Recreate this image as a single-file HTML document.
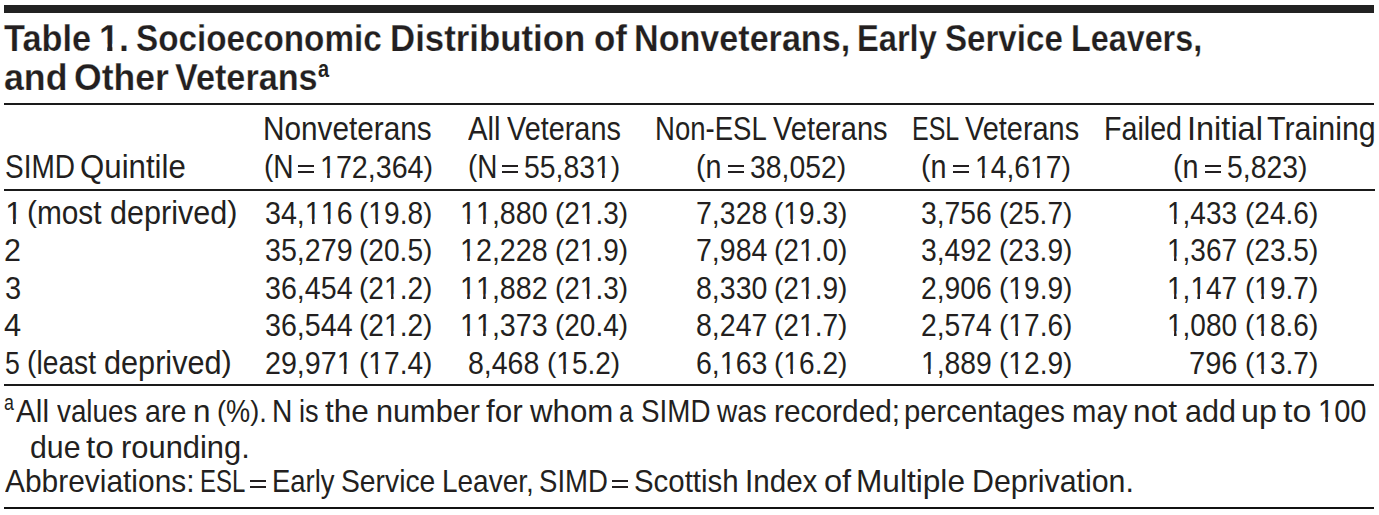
<!DOCTYPE html>
<html><head><meta charset="utf-8"><title>Table 1</title>
<style>
html,body{margin:0;padding:0;background:#fff;width:1379px;height:515px;overflow:hidden;position:relative}
.t{position:absolute;white-space:pre;line-height:1;font-family:"Liberation Sans", sans-serif;color:#231f20;transform-origin:0 0}
.r{position:absolute;background:#231f20}
.bo{-webkit-text-stroke:0.25px #fff}
.p{display:inline-block;transform:scaleY(0.92);transform-origin:0 0}
.o{display:inline-block;clip-path:polygon(0 0,100% 0,100% 0.68em,61.5% 0.68em,61.5% 100%,44.8% 100%,44.8% 0.68em,0 0.68em)}
b .o, .bo .o{clip-path:polygon(0 0,100% 0,100% 0.62em,67% 0.62em,67% 100%,41.5% 100%,41.5% 0.62em,0 0.62em)}
</style></head><body>
<div class=r style="left:4px;top:5px;width:1370px;height:8px;background:#222"></div>
<div class=r style="left:4px;top:103px;width:1370px;height:2px;background:#1a1a1a"></div>
<div class=r style="left:4px;top:189px;width:1371px;height:2px;background:#1a1a1a"></div>
<div class=r style="left:4px;top:384px;width:1370px;height:2px;background:#1a1a1a"></div>
<div class=r style="left:4px;top:507px;width:1370px;height:2px;background:#111"></div>
<div class=r style="left:297.9px;top:165px;width:16.3px;height:2px"></div>
<div class=r style="left:297.9px;top:171px;width:16.3px;height:2px"></div>
<div class=r style="left:502.0px;top:165px;width:16.3px;height:2px"></div>
<div class=r style="left:502.0px;top:171px;width:16.3px;height:2px"></div>
<div class=r style="left:727.7px;top:165px;width:16.3px;height:2px"></div>
<div class=r style="left:727.7px;top:171px;width:16.3px;height:2px"></div>
<div class=r style="left:952.7px;top:165px;width:16.3px;height:2px"></div>
<div class=r style="left:952.7px;top:171px;width:16.3px;height:2px"></div>
<div class=r style="left:1204.8px;top:165px;width:16.3px;height:2px"></div>
<div class=r style="left:1204.8px;top:171px;width:16.3px;height:2px"></div>
<div class=r style="left:249.7px;top:480px;width:16.8px;height:2px"></div>
<div class=r style="left:249.7px;top:486px;width:16.8px;height:2px"></div>
<div class=r style="left:612.0px;top:480px;width:16.3px;height:2px"></div>
<div class=r style="left:612.0px;top:486px;width:16.3px;height:2px"></div>
<div class="t bo" style="left:3.88px;top:21.00px;font-size:36.5px;font-weight:700;transform:scaleX(0.9394)">Table</div>
<div class="t bo" style="left:99.49px;top:21.00px;font-size:36.5px;font-weight:700;transform:scaleX(0.9840);font-kerning:none"><span class=o>1</span>.</div>
<div class="t bo" style="left:136.36px;top:21.00px;font-size:36.5px;font-weight:700;transform:scaleX(0.9108)">Socioeconomic</div>
<div class="t bo" style="left:390.12px;top:21.00px;font-size:36.5px;font-weight:700;transform:scaleX(0.9535)">Distribution</div>
<div class="t bo" style="left:593.76px;top:21.00px;font-size:36.5px;font-weight:700;transform:scaleX(0.9576)">of</div>
<div class="t bo" style="left:633.76px;top:21.00px;font-size:36.5px;font-weight:700;transform:scaleX(0.9348)">Nonveterans,</div>
<div class="t bo" style="left:856.87px;top:21.00px;font-size:36.5px;font-weight:700;transform:scaleX(0.8939)">Early</div>
<div class="t bo" style="left:945.47px;top:21.00px;font-size:36.5px;font-weight:700;transform:scaleX(0.9069)">Service</div>
<div class="t bo" style="left:1070.99px;top:21.00px;font-size:36.5px;font-weight:700;transform:scaleX(0.8853)">Leavers,</div>
<div class="t bo" style="left:3.68px;top:60.00px;font-size:36.5px;font-weight:700;transform:scaleX(0.9787)">and</div>
<div class="t bo" style="left:73.50px;top:60.00px;font-size:36.5px;font-weight:700;transform:scaleX(0.9737)">Other</div>
<div class="t bo" style="left:175.03px;top:60.00px;font-size:36.5px;font-weight:700;transform:scaleX(0.9373)">Veterans</div>
<div class="t" style="left:317.55px;top:57.60px;font-size:23px;font-weight:700;transform:scaleX(0.8653)">a</div>
<div class="t" style="left:4.51px;top:150.90px;font-size:32.5px;font-weight:400;transform:scaleX(0.8613)">SIMD</div>
<div class="t" style="left:80.46px;top:150.90px;font-size:32.5px;font-weight:400;transform:scaleX(0.9604)">Quintile</div>
<div class="t" style="left:263.48px;top:112.50px;font-size:32.5px;font-weight:400;transform:scaleX(0.9154)">Nonveterans</div>
<div class="t" style="left:468.10px;top:112.50px;font-size:32.5px;font-weight:400;transform:scaleX(0.9000)">All</div>
<div class="t" style="left:506.98px;top:112.50px;font-size:32.5px;font-weight:400;transform:scaleX(0.8876)">Veterans</div>
<div class="t" style="left:655.37px;top:112.50px;font-size:32.5px;font-weight:400;transform:scaleX(0.8469)">Non-ESL</div>
<div class="t" style="left:772.58px;top:112.50px;font-size:32.5px;font-weight:400;transform:scaleX(0.8931)">Veterans</div>
<div class="t" style="left:912.39px;top:112.50px;font-size:32.5px;font-weight:400;transform:scaleX(0.7687)">ESL</div>
<div class="t" style="left:965.08px;top:112.50px;font-size:32.5px;font-weight:400;transform:scaleX(0.8899)">Veterans</div>
<div class="t" style="left:1104.28px;top:112.50px;font-size:32.5px;font-weight:400;transform:scaleX(0.8812)">Failed</div>
<div class="t" style="left:1187.00px;top:112.50px;font-size:32.5px;font-weight:400;transform:scaleX(1.0007)">Initial</div>
<div class="t" style="left:1266.80px;top:112.50px;font-size:32.5px;font-weight:400;transform:scaleX(0.9360)">Training</div>
<div class="t" style="left:263.67px;top:150.90px;font-size:32.5px;font-weight:400;transform:scaleX(0.8639)"><span class=p>(</span>N</div>
<div class="t" style="left:320.13px;top:151.90px;font-size:31.0px;font-weight:400;transform:scaleX(0.9234);font-kerning:none"><span class=o>1</span>72,364<span class=p>)</span></div>
<div class="t" style="left:467.79px;top:150.90px;font-size:32.5px;font-weight:400;transform:scaleX(0.8571)"><span class=p>(</span>N</div>
<div class="t" style="left:524.16px;top:151.90px;font-size:31.0px;font-weight:400;transform:scaleX(0.9147);font-kerning:none">55,83<span class=o>1</span><span class=p>)</span></div>
<div class="t" style="left:696.23px;top:150.90px;font-size:32.5px;font-weight:400;transform:scaleX(0.8848)"><span class=p>(</span>n</div>
<div class="t" style="left:749.66px;top:151.90px;font-size:31.0px;font-weight:400;transform:scaleX(0.9137);font-kerning:none">38,052<span class=p>)</span></div>
<div class="t" style="left:921.23px;top:150.90px;font-size:32.5px;font-weight:400;transform:scaleX(0.8848)"><span class=p>(</span>n</div>
<div class="t" style="left:975.16px;top:151.90px;font-size:31.0px;font-weight:400;transform:scaleX(0.9117);font-kerning:none"><span class=o>1</span>4,6<span class=o>1</span>7<span class=p>)</span></div>
<div class="t" style="left:1173.33px;top:150.90px;font-size:32.5px;font-weight:400;transform:scaleX(0.8848)"><span class=p>(</span>n</div>
<div class="t" style="left:1226.76px;top:151.90px;font-size:31.0px;font-weight:400;transform:scaleX(0.9145);font-kerning:none">5,823<span class=p>)</span></div>
<div class="t" style="left:5.25px;top:197.70px;font-size:31.0px;font-weight:400;transform:scaleX(1.0000);font-kerning:none"><span class=o>1</span></div>
<div class="t" style="left:27.16px;top:196.70px;font-size:32.5px;font-weight:400;transform:scaleX(0.9177)"><span class=p>(</span>most</div>
<div class="t" style="left:109.83px;top:196.70px;font-size:32.5px;font-weight:400;transform:scaleX(0.9399)">deprived<span class=p>)</span></div>
<div class="t" style="left:4.33px;top:235.10px;font-size:31.0px;font-weight:400;transform:scaleX(0.9825);font-kerning:none">2</div>
<div class="t" style="left:4.73px;top:272.60px;font-size:31.0px;font-weight:400;transform:scaleX(0.9379);font-kerning:none">3</div>
<div class="t" style="left:4.05px;top:310.00px;font-size:31.0px;font-weight:400;transform:scaleX(0.9935);font-kerning:none">4</div>
<div class="t" style="left:5.22px;top:347.60px;font-size:31.0px;font-weight:400;transform:scaleX(0.8610);font-kerning:none">5</div>
<div class="t" style="left:27.26px;top:346.60px;font-size:32.5px;font-weight:400;transform:scaleX(0.8686)"><span class=p>(</span>least</div>
<div class="t" style="left:104.32px;top:346.60px;font-size:32.5px;font-weight:400;transform:scaleX(0.9429)">deprived<span class=p>)</span></div>
<div class="t" style="left:264.75px;top:197.70px;font-size:31.0px;font-weight:400;transform:scaleX(0.9236);font-kerning:none">34,<span class=o>1</span><span class=o>1</span>6</div>
<div class="t" style="left:358.69px;top:197.70px;font-size:31.0px;font-weight:400;transform:scaleX(0.9065);font-kerning:none"><span class=p>(</span><span class=o>1</span>9.8<span class=p>)</span></div>
<div class="t" style="left:460.33px;top:197.70px;font-size:31.0px;font-weight:400;transform:scaleX(0.9245);font-kerning:none"><span class=o>1</span><span class=o>1</span>,880</div>
<div class="t" style="left:554.80px;top:197.70px;font-size:31.0px;font-weight:400;transform:scaleX(0.9013);font-kerning:none"><span class=p>(</span>2<span class=o>1</span>.3<span class=p>)</span></div>
<div class="t" style="left:695.82px;top:197.70px;font-size:31.0px;font-weight:400;transform:scaleX(0.9204);font-kerning:none">7,328</div>
<div class="t" style="left:773.69px;top:197.70px;font-size:31.0px;font-weight:400;transform:scaleX(0.9065);font-kerning:none"><span class=p>(</span><span class=o>1</span>9.3<span class=p>)</span></div>
<div class="t" style="left:921.06px;top:197.70px;font-size:31.0px;font-weight:400;transform:scaleX(0.9133);font-kerning:none">3,756</div>
<div class="t" style="left:998.69px;top:197.70px;font-size:31.0px;font-weight:400;transform:scaleX(0.9065);font-kerning:none"><span class=p>(</span>25.7<span class=p>)</span></div>
<div class="t" style="left:1167.09px;top:197.70px;font-size:31.0px;font-weight:400;transform:scaleX(0.9038);font-kerning:none"><span class=o>1</span>,433</div>
<div class="t" style="left:1244.59px;top:197.70px;font-size:31.0px;font-weight:400;transform:scaleX(0.9039);font-kerning:none"><span class=p>(</span>24.6<span class=p>)</span></div>
<div class="t" style="left:264.75px;top:235.10px;font-size:31.0px;font-weight:400;transform:scaleX(0.9236);font-kerning:none">35,279</div>
<div class="t" style="left:358.69px;top:235.10px;font-size:31.0px;font-weight:400;transform:scaleX(0.9065);font-kerning:none"><span class=p>(</span>20.5<span class=p>)</span></div>
<div class="t" style="left:460.33px;top:235.10px;font-size:31.0px;font-weight:400;transform:scaleX(0.9245);font-kerning:none"><span class=o>1</span>2,228</div>
<div class="t" style="left:554.80px;top:235.10px;font-size:31.0px;font-weight:400;transform:scaleX(0.9013);font-kerning:none"><span class=p>(</span>2<span class=o>1</span>.9<span class=p>)</span></div>
<div class="t" style="left:695.82px;top:235.10px;font-size:31.0px;font-weight:400;transform:scaleX(0.9204);font-kerning:none">7,984</div>
<div class="t" style="left:773.69px;top:235.10px;font-size:31.0px;font-weight:400;transform:scaleX(0.9065);font-kerning:none"><span class=p>(</span>2<span class=o>1</span>.0<span class=p>)</span></div>
<div class="t" style="left:921.06px;top:235.10px;font-size:31.0px;font-weight:400;transform:scaleX(0.9133);font-kerning:none">3,492</div>
<div class="t" style="left:998.69px;top:235.10px;font-size:31.0px;font-weight:400;transform:scaleX(0.9065);font-kerning:none"><span class=p>(</span>23.9<span class=p>)</span></div>
<div class="t" style="left:1167.09px;top:235.10px;font-size:31.0px;font-weight:400;transform:scaleX(0.9038);font-kerning:none"><span class=o>1</span>,367</div>
<div class="t" style="left:1244.59px;top:235.10px;font-size:31.0px;font-weight:400;transform:scaleX(0.9039);font-kerning:none"><span class=p>(</span>23.5<span class=p>)</span></div>
<div class="t" style="left:264.75px;top:272.60px;font-size:31.0px;font-weight:400;transform:scaleX(0.9236);font-kerning:none">36,454</div>
<div class="t" style="left:358.69px;top:272.60px;font-size:31.0px;font-weight:400;transform:scaleX(0.9065);font-kerning:none"><span class=p>(</span>2<span class=o>1</span>.2<span class=p>)</span></div>
<div class="t" style="left:460.33px;top:272.60px;font-size:31.0px;font-weight:400;transform:scaleX(0.9245);font-kerning:none"><span class=o>1</span><span class=o>1</span>,882</div>
<div class="t" style="left:554.80px;top:272.60px;font-size:31.0px;font-weight:400;transform:scaleX(0.9013);font-kerning:none"><span class=p>(</span>2<span class=o>1</span>.3<span class=p>)</span></div>
<div class="t" style="left:695.82px;top:272.60px;font-size:31.0px;font-weight:400;transform:scaleX(0.9204);font-kerning:none">8,330</div>
<div class="t" style="left:773.69px;top:272.60px;font-size:31.0px;font-weight:400;transform:scaleX(0.9065);font-kerning:none"><span class=p>(</span>2<span class=o>1</span>.9<span class=p>)</span></div>
<div class="t" style="left:921.06px;top:272.60px;font-size:31.0px;font-weight:400;transform:scaleX(0.9133);font-kerning:none">2,906</div>
<div class="t" style="left:998.69px;top:272.60px;font-size:31.0px;font-weight:400;transform:scaleX(0.9065);font-kerning:none"><span class=p>(</span><span class=o>1</span>9.9<span class=p>)</span></div>
<div class="t" style="left:1167.09px;top:272.60px;font-size:31.0px;font-weight:400;transform:scaleX(0.9038);font-kerning:none"><span class=o>1</span>,<span class=o>1</span>47</div>
<div class="t" style="left:1244.59px;top:272.60px;font-size:31.0px;font-weight:400;transform:scaleX(0.9039);font-kerning:none"><span class=p>(</span><span class=o>1</span>9.7<span class=p>)</span></div>
<div class="t" style="left:264.75px;top:310.00px;font-size:31.0px;font-weight:400;transform:scaleX(0.9236);font-kerning:none">36,544</div>
<div class="t" style="left:358.69px;top:310.00px;font-size:31.0px;font-weight:400;transform:scaleX(0.9065);font-kerning:none"><span class=p>(</span>2<span class=o>1</span>.2<span class=p>)</span></div>
<div class="t" style="left:460.33px;top:310.00px;font-size:31.0px;font-weight:400;transform:scaleX(0.9245);font-kerning:none"><span class=o>1</span><span class=o>1</span>,373</div>
<div class="t" style="left:554.80px;top:310.00px;font-size:31.0px;font-weight:400;transform:scaleX(0.9013);font-kerning:none"><span class=p>(</span>20.4<span class=p>)</span></div>
<div class="t" style="left:695.82px;top:310.00px;font-size:31.0px;font-weight:400;transform:scaleX(0.9204);font-kerning:none">8,247</div>
<div class="t" style="left:773.69px;top:310.00px;font-size:31.0px;font-weight:400;transform:scaleX(0.9065);font-kerning:none"><span class=p>(</span>2<span class=o>1</span>.7<span class=p>)</span></div>
<div class="t" style="left:921.06px;top:310.00px;font-size:31.0px;font-weight:400;transform:scaleX(0.9133);font-kerning:none">2,574</div>
<div class="t" style="left:998.69px;top:310.00px;font-size:31.0px;font-weight:400;transform:scaleX(0.9065);font-kerning:none"><span class=p>(</span><span class=o>1</span>7.6<span class=p>)</span></div>
<div class="t" style="left:1167.09px;top:310.00px;font-size:31.0px;font-weight:400;transform:scaleX(0.9038);font-kerning:none"><span class=o>1</span>,080</div>
<div class="t" style="left:1244.59px;top:310.00px;font-size:31.0px;font-weight:400;transform:scaleX(0.9039);font-kerning:none"><span class=p>(</span><span class=o>1</span>8.6<span class=p>)</span></div>
<div class="t" style="left:264.75px;top:347.60px;font-size:31.0px;font-weight:400;transform:scaleX(0.9236);font-kerning:none">29,97<span class=o>1</span></div>
<div class="t" style="left:358.69px;top:347.60px;font-size:31.0px;font-weight:400;transform:scaleX(0.9065);font-kerning:none"><span class=p>(</span><span class=o>1</span>7.4<span class=p>)</span></div>
<div class="t" style="left:468.45px;top:347.60px;font-size:31.0px;font-weight:400;transform:scaleX(0.9187);font-kerning:none">8,468</div>
<div class="t" style="left:546.89px;top:347.60px;font-size:31.0px;font-weight:400;transform:scaleX(0.9026);font-kerning:none"><span class=p>(</span><span class=o>1</span>5.2<span class=p>)</span></div>
<div class="t" style="left:695.82px;top:347.60px;font-size:31.0px;font-weight:400;transform:scaleX(0.9204);font-kerning:none">6,<span class=o>1</span>63</div>
<div class="t" style="left:773.69px;top:347.60px;font-size:31.0px;font-weight:400;transform:scaleX(0.9065);font-kerning:none"><span class=p>(</span><span class=o>1</span>6.2<span class=p>)</span></div>
<div class="t" style="left:921.06px;top:347.60px;font-size:31.0px;font-weight:400;transform:scaleX(0.9133);font-kerning:none"><span class=o>1</span>,889</div>
<div class="t" style="left:998.69px;top:347.60px;font-size:31.0px;font-weight:400;transform:scaleX(0.9065);font-kerning:none"><span class=p>(</span><span class=o>1</span>2.9<span class=p>)</span></div>
<div class="t" style="left:1189.29px;top:347.60px;font-size:31.0px;font-weight:400;transform:scaleX(0.9374);font-kerning:none">796</div>
<div class="t" style="left:1244.59px;top:347.60px;font-size:31.0px;font-weight:400;transform:scaleX(0.9039);font-kerning:none"><span class=p>(</span><span class=o>1</span>3.7<span class=p>)</span></div>
<div class="t" style="left:4.09px;top:391.50px;font-size:22px;font-weight:400;transform:scaleX(0.8089)">a</div>
<div class="t" style="left:16.20px;top:396.30px;font-size:30.5px;font-weight:400;transform:scaleX(0.9764)">All</div>
<div class="t" style="left:57.17px;top:396.30px;font-size:30.5px;font-weight:400;transform:scaleX(0.9118)">values</div>
<div class="t" style="left:144.83px;top:396.30px;font-size:30.5px;font-weight:400;transform:scaleX(0.9398)">are</div>
<div class="t" style="left:192.64px;top:396.30px;font-size:30.5px;font-weight:400;transform:scaleX(1.0308)">n</div>
<div class="t" style="left:216.72px;top:396.30px;font-size:30.5px;font-weight:400;transform:scaleX(0.8898)"><span class=p>(</span>%<span class=p>)</span>.</div>
<div class="t" style="left:271.89px;top:396.30px;font-size:30.5px;font-weight:400;transform:scaleX(0.9235)">N</div>
<div class="t" style="left:299.22px;top:396.30px;font-size:30.5px;font-weight:400;transform:scaleX(0.8895)">is</div>
<div class="t" style="left:325.48px;top:396.30px;font-size:30.5px;font-weight:400;transform:scaleX(1.0346)">the</div>
<div class="t" style="left:375.69px;top:396.30px;font-size:30.5px;font-weight:400;transform:scaleX(1.0050)">number</div>
<div class="t" style="left:486.39px;top:396.30px;font-size:30.5px;font-weight:400;transform:scaleX(1.0290)">for</div>
<div class="t" style="left:530.30px;top:396.30px;font-size:30.5px;font-weight:400;transform:scaleX(1.0246)">whom</div>
<div class="t" style="left:618.85px;top:396.30px;font-size:30.5px;font-weight:400;transform:scaleX(0.8381)">a</div>
<div class="t" style="left:640.93px;top:396.30px;font-size:30.5px;font-weight:400;transform:scaleX(0.9106)">SIMD</div>
<div class="t" style="left:717.20px;top:396.30px;font-size:30.5px;font-weight:400;transform:scaleX(0.9146)">was</div>
<div class="t" style="left:773.64px;top:396.30px;font-size:30.5px;font-weight:400;transform:scaleX(0.9790)">recorded;</div>
<div class="t" style="left:904.08px;top:396.30px;font-size:30.5px;font-weight:400;transform:scaleX(0.9590)">percentages</div>
<div class="t" style="left:1071.68px;top:396.30px;font-size:30.5px;font-weight:400;transform:scaleX(0.9604)">may</div>
<div class="t" style="left:1133.32px;top:396.30px;font-size:30.5px;font-weight:400;transform:scaleX(1.0410)">not</div>
<div class="t" style="left:1184.85px;top:396.30px;font-size:30.5px;font-weight:400;transform:scaleX(1.0010)">add</div>
<div class="t" style="left:1241.49px;top:396.30px;font-size:30.5px;font-weight:400;transform:scaleX(1.0557)">up</div>
<div class="t" style="left:1283.04px;top:396.30px;font-size:30.5px;font-weight:400;transform:scaleX(1.1116)">to</div>
<div class="t" style="left:1317.84px;top:396.30px;font-size:30.5px;font-weight:400;transform:scaleX(0.9519);font-kerning:none"><span class=o>1</span>00</div>
<div class="t" style="left:29.66px;top:431.60px;font-size:30.5px;font-weight:400;transform:scaleX(0.9927)">due</div>
<div class="t" style="left:86.35px;top:431.60px;font-size:30.5px;font-weight:400;transform:scaleX(1.0905)">to</div>
<div class="t" style="left:120.97px;top:431.60px;font-size:30.5px;font-weight:400;transform:scaleX(1.0127)">rounding.</div>
<div class="t" style="left:5.30px;top:466.30px;font-size:30.5px;font-weight:400;transform:scaleX(0.9806)">Abbreviations:</div>
<div class="t" style="left:199.54px;top:466.30px;font-size:30.5px;font-weight:400;transform:scaleX(0.7853)">ESL</div>
<div class="t" style="left:271.65px;top:466.30px;font-size:30.5px;font-weight:400;transform:scaleX(0.9004)">Early</div>
<div class="t" style="left:340.91px;top:466.30px;font-size:30.5px;font-weight:400;transform:scaleX(0.9276)">Service</div>
<div class="t" style="left:441.51px;top:466.30px;font-size:30.5px;font-weight:400;transform:scaleX(0.9172)">Leaver,</div>
<div class="t" style="left:538.54px;top:466.30px;font-size:30.5px;font-weight:400;transform:scaleX(0.9038)">SIMD</div>
<div class="t" style="left:633.55px;top:466.30px;font-size:30.5px;font-weight:400;transform:scaleX(0.9638)">Scottish</div>
<div class="t" style="left:744.73px;top:466.30px;font-size:30.5px;font-weight:400;transform:scaleX(0.9706)">Index</div>
<div class="t" style="left:823.56px;top:466.30px;font-size:30.5px;font-weight:400;transform:scaleX(1.0680)">of</div>
<div class="t" style="left:856.31px;top:466.30px;font-size:30.5px;font-weight:400;transform:scaleX(1.0370)">Multiple</div>
<div class="t" style="left:971.51px;top:466.30px;font-size:30.5px;font-weight:400;transform:scaleX(0.9949)">Deprivation.</div>
</body></html>
